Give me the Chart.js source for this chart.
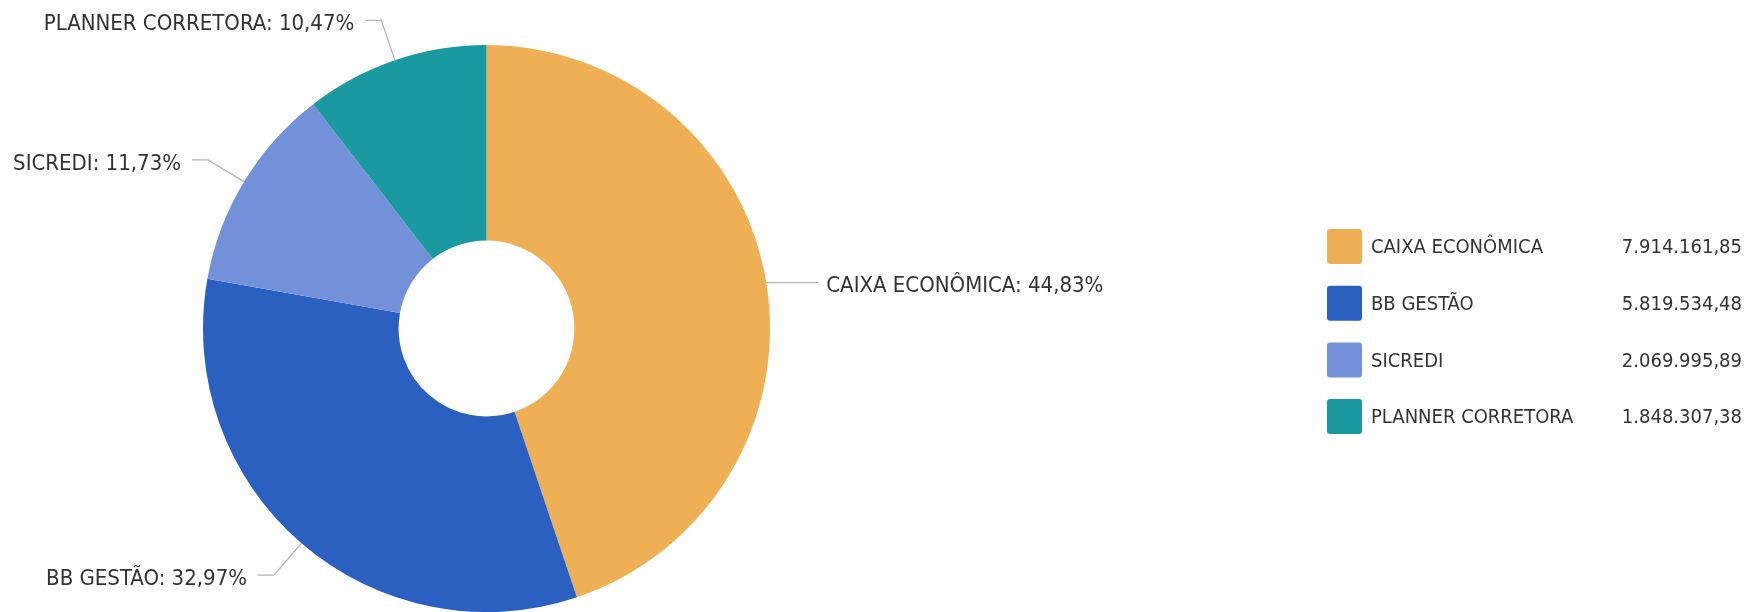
<!DOCTYPE html>
<html>
<head>
<meta charset="utf-8">
<script src="https://cdn.jsdelivr.net/npm/chart.js@4/dist/chart.umd.min.js"></script>
<style>
 html, body { margin: 0; padding: 0; background: #fff; }
 #wrap { width: 1753px; height: 612px; position: relative; }
</style>
</head>
<body>
<div id="wrap"><canvas id="chart1"></canvas></div>
<script>
// chart data
var categories = ['CAIXA ECONÔMICA', 'BB GESTÃO', 'SICREDI', 'PLANNER CORRETORA'];
var values = [7914161.85, 5819534.48, 2069995.89, 1848307.38];
var colors = ['#EFAF55', '#2A60BF', '#7391D9', '#1A9AA0'];

var textColor = '#333333';
var fontSpec = '22px "DejaVu Sans Condensed", "DejaVu Sans", sans-serif';
var legendFont = '20px "DejaVu Sans Condensed", "DejaVu Sans", sans-serif';

function fmtBR(n, dec) {
 var parts = n.toFixed(dec).split('.');
 var int = parts[0].replace(/\B(?=(\d{3})+(?!\d))/g, '.');
 return dec > 0 ? int + ',' + parts[1] : int;
}

var total = values.reduce(function (a, b) { return a + b; }, 0);

// leader lines + outside labels
var outLabels = {
 id: 'outLabels',
 afterDatasetsDraw: function (chart) {
  var ctx = chart.ctx;
  var meta = chart.getDatasetMeta(0);
  ctx.save();
  ctx.font = fontSpec;
  ctx.textBaseline = 'middle';
  meta.data.forEach(function (arc, i) {
   var p = arc.getProps(['x', 'y', 'startAngle', 'endAngle', 'outerRadius'], true);
   var mid = (p.startAngle + p.endAngle) / 2;
   var cos = Math.cos(mid), sin = Math.sin(mid);
   var x0 = p.x + cos * p.outerRadius, y0 = p.y + sin * p.outerRadius;
   var x1, y1;
   if (Math.abs(sin) < 0.3) {
    // near horizontal slice: straight line out
    x1 = x0 + (cos >= 0 ? 38 : -38); y1 = y0;
   } else {
    x1 = p.x + cos * (p.outerRadius + 42); y1 = p.y + sin * (p.outerRadius + 42);
   }
   var right = cos >= 0;
   var x2 = x1 + (right ? 14 : -16);
   ctx.strokeStyle = '#b5b5b5';
   ctx.lineWidth = 1.3;
   ctx.beginPath();
   ctx.moveTo(x0, y0);
   ctx.lineTo(x1, y1);
   ctx.lineTo(x2, y1);
   ctx.stroke();
   var pct = fmtBR(values[i] / total * 100, 2) + '%';
   ctx.fillStyle = textColor;
   ctx.textAlign = right ? 'left' : 'right';
   ctx.fillText(categories[i] + ': ' + pct, x2 + (right ? 8 : -11), y1 + 4);
  });
  ctx.restore();
 }
};

// legend with values on the right
var sideLegend = {
 id: 'sideLegend',
 afterDraw: function (chart) {
  var ctx = chart.ctx;
  ctx.save();
  ctx.font = legendFont;
  ctx.textBaseline = 'middle';
  categories.forEach(function (c, i) {
   var top = 229 + i * 56.7;
   ctx.fillStyle = colors[i];
   ctx.beginPath();
   ctx.roundRect(1327, top, 35, 35, 3);
   ctx.fill();
   ctx.fillStyle = textColor;
   ctx.textAlign = 'left';
   ctx.fillText(c, 1371, top + 19);
   ctx.textAlign = 'right';
   ctx.fillText(fmtBR(values[i], 2), 1742, top + 19);
  });
  ctx.restore();
 }
};

var ctx1 = document.getElementById('chart1').getContext('2d');
var chart1 = new Chart(ctx1, {
 type: 'doughnut',
 data: {
  labels: categories,
  datasets: [{
   data: values,
   backgroundColor: colors,
   borderWidth: 0
  }]
 },
 options: {
  responsive: true,
  maintainAspectRatio: false,
  animation: false,
  cutout: '31%',
  layout: { padding: { left: 203, right: 983, top: 45, bottom: 0 } },
  plugins: {
   legend: { display: false },
   tooltip: { enabled: false }
  }
 },
 plugins: [outLabels, sideLegend]
});
</script>
</body>
</html>
